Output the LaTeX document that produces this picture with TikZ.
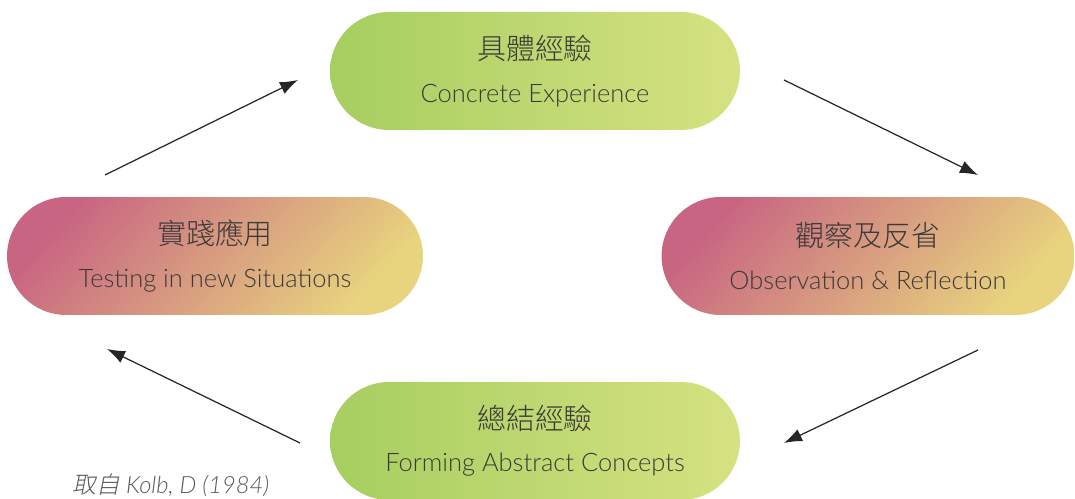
\documentclass[tikz,border=0pt]{standalone}
\usepackage{fontspec}
\setmainfont{Lato}[UprightFont=* Light, ItalicFont=* Light Italic]
\newfontfamily\cjk{Noto Sans CJK TC}[UprightFont=* Light]
\newfontfamily\cjkslant{Noto Sans CJK TC}[UprightFont=* Light, UprightFeatures={FakeSlant=0.2}]
\usetikzlibrary{arrows.meta,positioning}
\definecolor{kolbGreenL}{HTML}{A6CE60}
\definecolor{kolbGreenR}{HTML}{D6E282}
\definecolor{kolbRose}{HTML}{C86582}
\definecolor{kolbSand}{HTML}{E8D47E}
\definecolor{kolbInk}{HTML}{3A3A3A}
\tikzset{
  phase/.style={rounded corners=1.18cm, minimum width=8.2cm, minimum height=2.36cm, inner sep=0pt, align=center, text=kolbInk, font=\fontsize{14.5}{24}\selectfont},
  greenfill/.style={left color=kolbGreenL, right color=kolbGreenR},
  warmfill/.style={left color=kolbRose, right color=kolbSand, shading angle=48},
  flow/.style={-{Latex[length=3.6mm,width=2.6mm]}, line width=0.7pt, draw=black!85},
}
\newcommand{\zhline}[1]{{\cjk\fontsize{16.5}{24}\selectfont #1}}

\begin{document}
\begin{tikzpicture}[x=0.02cm,y=0.02cm]
\useasboundingbox (0,0) rectangle (1075,499);
% the four stages of the cycle
\node[phase, greenfill] (ce) at (535,428) {\zhline{具體經驗}\\Concrete Experience};
\node[phase, warmfill, minimum width=8.26cm] (ro) at (868,243) {\zhline{觀察及反省}\\Observation \& Reflection};
\node[phase, greenfill] (ac) at (535,58) {\zhline{總結經驗}\\Forming Abstract Concepts};
\node[phase, warmfill, minimum width=8.32cm] (ae) at (215,243) {\zhline{實踐應用}\\Testing in new Situations};
% arrow ends, floating between the stages
\coordinate (aeOut) at (105,324);
\coordinate (ceIn) at (298,419);
\coordinate (ceOut) at (784,419);
\coordinate (roIn) at (978,324);
\coordinate (roOut) at (978,149);
\coordinate (acIn) at (784,56);
\coordinate (acOut) at (300,56);
\coordinate (aeIn) at (107,150);
\draw[flow] (aeOut) -- (ceIn);
\draw[flow] (ceOut) -- (roIn);
\draw[flow] (roOut) -- (acIn);
\draw[flow] (acOut) -- (aeIn);
% source
\node[anchor=base west, text=black!65, font=\fontsize{13.5}{15}\selectfont, inner sep=0pt] (src) at (72,5) {{\cjkslant 取自} \textit{Kolb, D (1984)}};
\end{tikzpicture}
\end{document}
